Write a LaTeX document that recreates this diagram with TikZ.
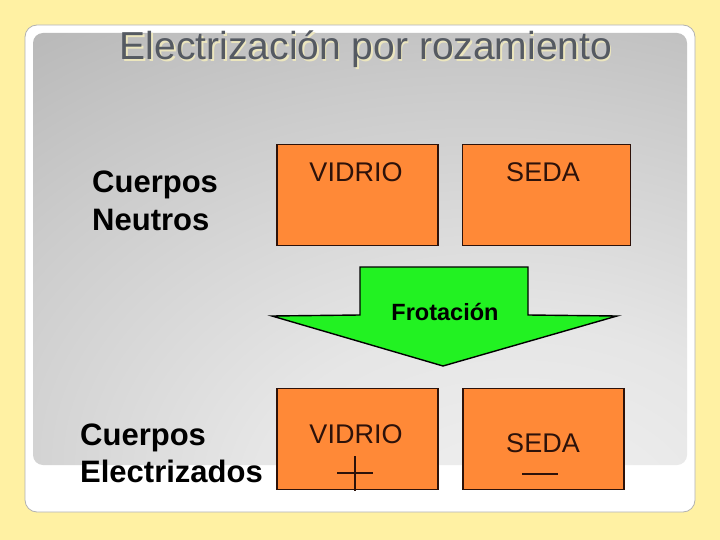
\documentclass[tikz,border=0pt]{standalone}
\usepackage{fontspec}
\setmainfont{Liberation Sans}
\usetikzlibrary{positioning}
\definecolor{fondo}{RGB}{255,241,163}
\definecolor{naranja}{RGB}{255,137,55}
\definecolor{borde}{RGB}{45,18,10}
\definecolor{verde}{RGB}{34,242,34}
\definecolor{titulo}{RGB}{85,90,98}
\definecolor{sombra}{RGB}{236,230,190}
\pgfdeclareradialshading{panel}{\pgfpoint{14bp}{-35bp}}{color(0bp)=(black!5); color(20bp)=(black!10); color(40bp)=(black!20); color(60bp)=(black!31); color(80bp)=(black!37); color(110bp)=(black!45)}
\tikzset{
  caja/.style={draw=borde, fill=naranja, line width=1.6pt, inner sep=0pt, minimum width=161pt, minimum height=101pt},
  rotulo/.style={text=borde, font=\fontsize{27}{30}\selectfont, anchor=base, inner sep=0pt},
  cuerpos/.style={font=\fontsize{31}{36}\selectfont\bfseries, anchor=base west, inner sep=0pt},
  signo/.style={draw=borde, line width=1.3pt}
}
\begin{document}
\begin{tikzpicture}[x=1pt,y=-1pt]
\fill[fondo] (0,0) rectangle (720,540);
\useasboundingbox (0,0) rectangle (720,540);
\draw[black!30, fill=white, rounded corners=12pt, line width=0.8pt] (25,25) rectangle (695,512);
\path[shading=panel, rounded corners=10pt] (33,33) rectangle (687,465);
% titulo
\node[anchor=base, text=sombra, font=\fontsize{39}{42}\selectfont, inner sep=0pt] (titsombra) at (367.5,61.5) {Electrización por rozamiento};
\node[anchor=base, text=titulo, font=\fontsize{39}{42}\selectfont, inner sep=0pt] (titulo) at (366,60) {Electrización por rozamiento};
% cuerpos neutros
\node[cuerpos] (neutros) at (92,193) {Cuerpos};
\node[cuerpos] (neutros2) at ([yshift=-37pt]neutros.base west) {Neutros};
\node[caja] (vidrio) at (357.5,195) {};
\node[caja, minimum width=168pt] (seda) at (546.5,195) {};
\node[rotulo] (tvidrio) at (356,182) {VIDRIO};
\node[rotulo] (tseda) at (543,182) {SEDA};
% flecha
\draw[fill=verde, line width=1.4pt, line join=miter] (360,267) -- (528,267) -- (528,315) -- (617,316) -- (443,366) -- (272,316) -- (360,315) -- cycle;
\node[anchor=base, font=\fontsize{23.5}{26}\selectfont\bfseries, inner sep=0pt] (frotacion) at (445,320) {Frotación};
% cuerpos electrizados
\node[cuerpos] (electr) at (80,445) {Cuerpos};
\node[cuerpos] (electr2) at ([yshift=-37pt]electr.base west) {Electrizados};
\node[caja] (vidrio2) at (357.5,439) {};
\node[caja] (seda2) at (543.5,439) {};
\node[rotulo] (tvidrio2) at (356,443) {VIDRIO};
\node[rotulo] (tseda2) at (543,452) {SEDA};
\draw[signo] (337,473) -- (373,473) (355,456) -- (355,491);
\draw[signo] (522,474) -- (558,474);
\end{tikzpicture}
\end{document}
